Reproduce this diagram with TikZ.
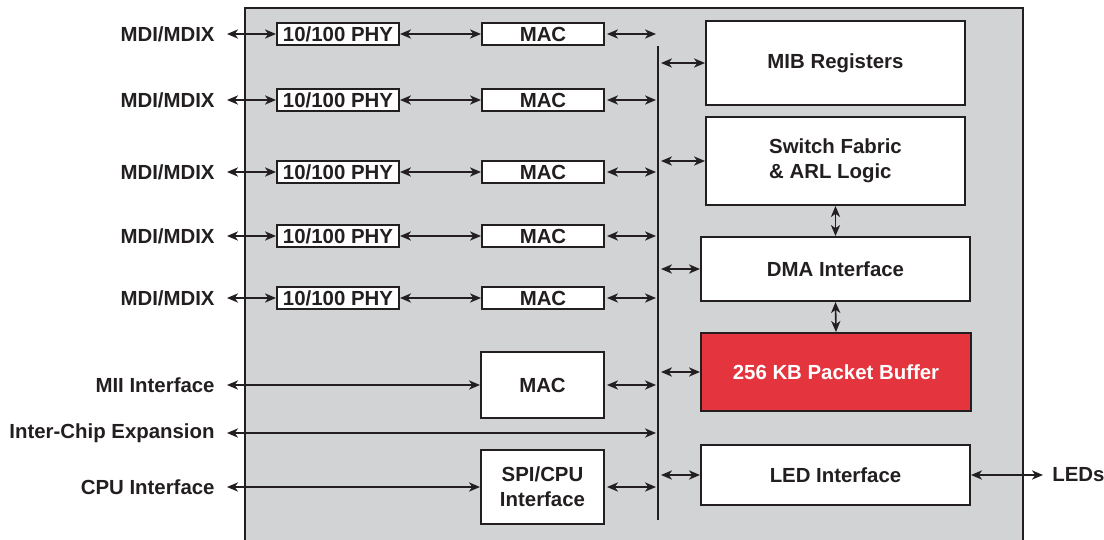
\documentclass[tikz,border=0pt]{standalone}
\usepackage{fontspec}
\setmainfont{Liberation Sans}
\usetikzlibrary{arrows.meta}

\definecolor{chipgray}{HTML}{D1D3D4}
\definecolor{bufred}{HTML}{E4343E}
\definecolor{ink}{HTML}{231F20}

\tikzset{
  blk/.style={draw=ink, line width=1pt, fill=white, inner sep=0pt, text=ink,
    font=\bfseries\fontsize{10.2}{12.5}\selectfont},
  lab/.style={inner xsep=6pt, inner ysep=0pt, text=ink,
    font=\bfseries\fontsize{10.2}{12.5}\selectfont},
  link/.style={{Stealth[length=5.5pt,width=4.6pt,inset=1.6pt]}-{Stealth[length=5.5pt,width=4.6pt,inset=1.6pt]},
    line width=0.8pt, draw=ink}
}

\begin{document}
\begin{tikzpicture}[x=0.5pt, y=-0.5pt]

\clip (0,0) rectangle (1104,540);

% Chip outline
\draw[draw=ink, line width=1pt, fill=chipgray] (245,8) rectangle (1023,560);

% Internal bus
\coordinate (bustop) at (658,46);
\coordinate (busbot) at (658,520);
\draw[draw=ink, line width=1pt] (bustop) -- (busbot);

% Ports: MDI/MDIX -- PHY -- MAC -- bus
\foreach \y [count=\i] in {34,100,172,236,298} {
  \node[lab, anchor=east] (mdi\i) at (227,\y) {MDI/MDIX};
  \node[blk, minimum width=61pt, minimum height=11pt] (phy\i) at (338,\y) {10/100 PHY};
  \node[blk, minimum width=61pt, minimum height=11pt] (mac\i) at (543,\y) {MAC};
  \draw[link] (mdi\i.east) -- (phy\i.west);
  \draw[link] (phy\i.east) -- (mac\i.west);
  \draw[link, shorten <=1pt, shorten >=1pt] (mac\i.east) -- (mac\i.east -| bustop);
}

% MII port
\node[blk, minimum width=61.5pt, minimum height=33pt] (macmii) at (542.5,385) {MAC};
\node[lab, anchor=east] (mii) at (227,385) {MII Interface};
\draw[link] (mii.east) -- (macmii.west);
\draw[link, shorten <=1pt, shorten >=1pt] (macmii.east) -- (macmii.east -| bustop);

% Expansion
\node[lab, anchor=east] (icx) at (227,433) {Inter-Chip Expansion};
\draw[link, shorten >=1pt] (icx.east) -- (icx.east -| bustop);

% CPU port
\node[blk, minimum width=61.5pt, minimum height=37pt, align=center] (spi) at (542.5,487) {SPI/CPU\\Interface};
\node[lab, anchor=east] (cpu) at (227,487) {CPU Interface};
\draw[link] (cpu.east) -- (spi.west);
\draw[link, shorten <=1pt, shorten >=1pt] (spi.east) -- (spi.east -| bustop);

% Right column
\node[blk, minimum width=129.5pt, minimum height=42pt] (mib) at (835.5,63) {MIB Registers};
\node[blk, minimum width=129.5pt, minimum height=44pt, align=left] (sw) at (835.5,161) {Switch Fabric\\\& ARL Logic};
\node[blk, minimum width=134.5pt, minimum height=32pt] (dma) at (835.5,269) {DMA Interface};
\node[blk, minimum width=135pt, minimum height=39pt, fill=bufred, text=white] (buf) at (836,372) {256 KB Packet Buffer};
\node[blk, minimum width=134.5pt, minimum height=30pt] (led) at (835.5,475) {LED Interface};
\node[lab, anchor=west, inner xsep=4.5pt] (leds) at (1043,475) {LEDs};

\foreach \b in {mib,sw,dma,buf,led}
  \draw[link] ([xshift=1.5pt]\b.west -| bustop) -- (\b.west);

\draw[link] (sw.south) -- (dma.north);
\draw[link] (dma.south) -- (buf.north);
\draw[link] (led.east) -- (leds.west);

\end{tikzpicture}
\end{document}
